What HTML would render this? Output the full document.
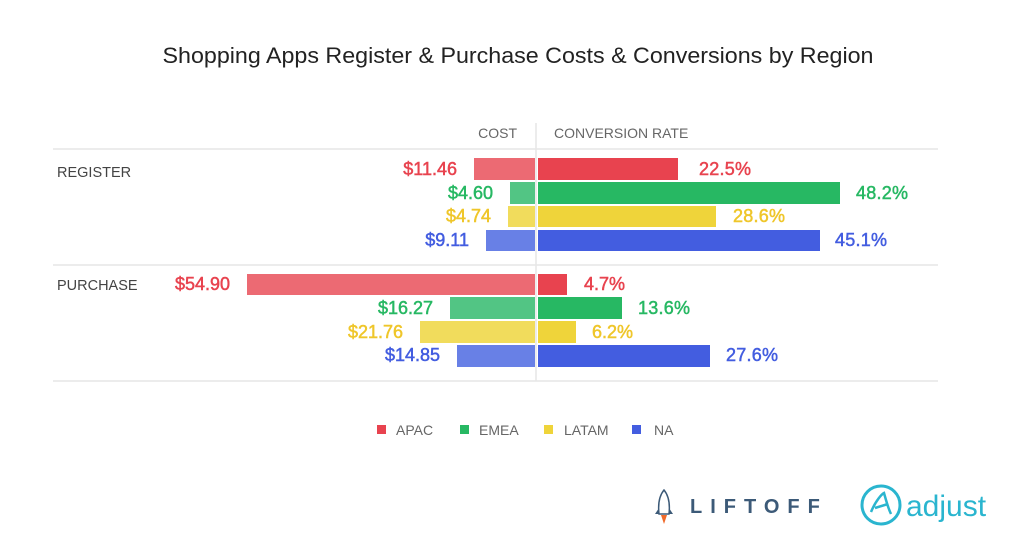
<!DOCTYPE html>
<html><head><meta charset="utf-8"><style>
body{margin:0;background:#fff;}
svg{display:block;font-family:"Liberation Sans",sans-serif;}
</style></head><body>
<svg width="1024" height="545" viewBox="0 0 1024 545">
<rect width="1024" height="545" fill="#fff"/>
<text x="518" y="63" text-anchor="middle" font-size="22.5" fill="#222" textLength="711" lengthAdjust="spacingAndGlyphs">Shopping Apps Register &amp; Purchase Costs &amp; Conversions by Region</text>
<text x="517" y="138" text-anchor="end" font-size="14" fill="#666">COST</text>
<text x="554" y="138" font-size="14" fill="#666">CONVERSION RATE</text>
<g stroke="#e6e6e6" stroke-width="1.5">
<line x1="53" y1="149" x2="938" y2="149"/>
<line x1="53" y1="265" x2="938" y2="265"/>
<line x1="53" y1="381" x2="938" y2="381"/>
<line x1="536" y1="123" x2="536" y2="381"/>
</g>
<text x="57" y="177" font-size="14.5" fill="#444">REGISTER</text>
<text x="57" y="290" font-size="14.5" fill="#444">PURCHASE</text>
<g font-size="18" stroke-width="0.5">
<rect x="474" y="158" width="61" height="22" fill="#ec6a73"/><rect x="538" y="158" width="140" height="22" fill="#e8434f"/>
<text x="457" y="175" text-anchor="end" fill="#e8434f" stroke="#e8434f">$11.46</text><text x="699" y="175" fill="#e8434f" stroke="#e8434f" textLength="52">22.5%</text>
<rect x="510" y="182" width="25" height="22" fill="#52c584"/><rect x="538" y="182" width="302" height="22" fill="#27b863"/>
<text x="493" y="199" text-anchor="end" fill="#27b863" stroke="#27b863">$4.60</text><text x="856" y="199" fill="#27b863" stroke="#27b863" textLength="52">48.2%</text>
<rect x="508" y="206" width="27" height="21" fill="#f1dc5c"/><rect x="538" y="206" width="178" height="21" fill="#efd43a"/>
<text x="491" y="222" text-anchor="end" fill="#efc62a" stroke="#efc62a">$4.74</text><text x="733" y="222" fill="#efc62a" stroke="#efc62a" textLength="52">28.6%</text>
<rect x="486" y="230" width="49" height="21" fill="#6880e6"/><rect x="538" y="230" width="282" height="21" fill="#435de0"/>
<text x="469" y="246" text-anchor="end" fill="#435de0" stroke="#435de0">$9.11</text><text x="835" y="246" fill="#435de0" stroke="#435de0" textLength="52">45.1%</text>
<rect x="247" y="274" width="288" height="21" fill="#ec6a73"/><rect x="538" y="274" width="29" height="21" fill="#e8434f"/>
<text x="230" y="290" text-anchor="end" fill="#e8434f" stroke="#e8434f">$54.90</text><text x="584" y="290" fill="#e8434f" stroke="#e8434f">4.7%</text>
<rect x="450" y="297" width="85" height="22" fill="#52c584"/><rect x="538" y="297" width="84" height="22" fill="#27b863"/>
<text x="433" y="314" text-anchor="end" fill="#27b863" stroke="#27b863">$16.27</text><text x="638" y="314" fill="#27b863" stroke="#27b863" textLength="52">13.6%</text>
<rect x="420" y="321" width="115" height="22" fill="#f1dc5c"/><rect x="538" y="321" width="38" height="22" fill="#efd43a"/>
<text x="403" y="338" text-anchor="end" fill="#efc62a" stroke="#efc62a">$21.76</text><text x="592" y="338" fill="#efc62a" stroke="#efc62a">6.2%</text>
<rect x="457" y="345" width="78" height="22" fill="#6880e6"/><rect x="538" y="345" width="172" height="22" fill="#435de0"/>
<text x="440" y="361" text-anchor="end" fill="#435de0" stroke="#435de0">$14.85</text><text x="726" y="361" fill="#435de0" stroke="#435de0" textLength="52">27.6%</text>
</g>
<g font-size="14" fill="#666">
<rect x="377" y="425" width="9" height="9" fill="#e8434f"/><text x="396" y="435">APAC</text>
<rect x="460" y="425" width="9" height="9" fill="#27b863"/><text x="479" y="435">EMEA</text>
<rect x="544" y="425" width="9" height="9" fill="#efd43a"/><text x="564" y="435">LATAM</text>
<rect x="632" y="425" width="9" height="9" fill="#435de0"/><text x="654" y="435">NA</text>
</g>
<path d="M664 490 C659 496 658 505 659 514 L669 514 C670 505 669 496 664 490Z" fill="none" stroke="#3c5a78" stroke-width="1.5"/>
<path d="M659 508 L655 514 L659 514Z M669 508 L673 514 L669 514Z" fill="#3c5a78"/>
<path d="M661 515 L664 524 L667 515Z" fill="#f06a2a"/>
<text x="690" y="513" font-size="20" font-weight="bold" fill="#3c5a78" letter-spacing="8">LIFTOFF</text>
<circle cx="881" cy="505" r="19" fill="none" stroke="#2ab5cf" stroke-width="3"/>
<path d="M871 512 C876 500 882 494 884 493 C886 500 888 508 891 514 M875 508 L888 504" fill="none" stroke="#2ab5cf" stroke-width="2.5"/>
<text x="906" y="516" font-size="30" fill="#2ab5cf">adjust</text>
</svg>
</body></html>
